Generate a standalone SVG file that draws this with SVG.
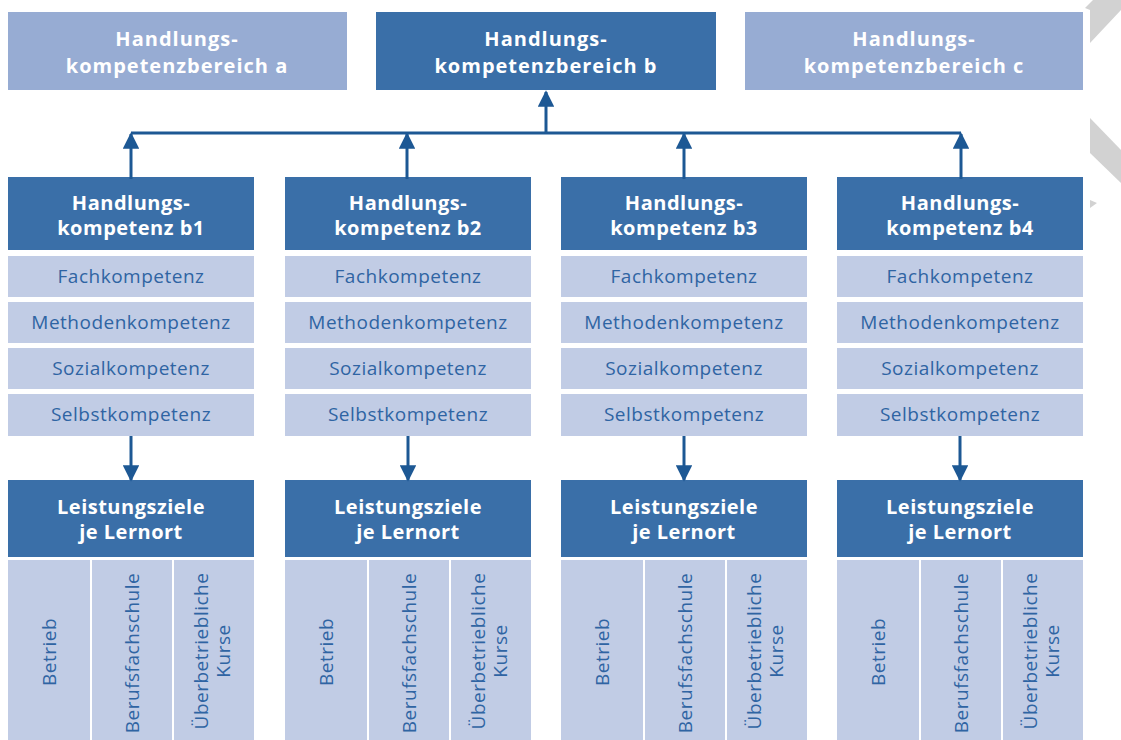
<svg xmlns="http://www.w3.org/2000/svg" width="1121" height="740" viewBox="0 0 1121 740">
<style>
.light{fill:#97acd3}
.dark{fill:#3a6fa8}
.row{fill:#c1cce5}
.ht{font-family:"Open Sans","Noto Sans",sans-serif;font-weight:bold;font-size:20px;letter-spacing:1px;fill:#fff;text-anchor:middle}
.hc{letter-spacing:0.5px}
.rt{font-family:"Open Sans","Noto Sans",sans-serif;font-size:19px;letter-spacing:0.5px;fill:#2f64a3;text-anchor:middle}
.conn{stroke:#1d5894;stroke-width:3;fill:none}
</style>
<defs>
<marker id="ah" viewBox="0 0 10 10" refX="9" refY="5" markerWidth="5.5" markerHeight="5.5" orient="auto" markerUnits="strokeWidth">
<path d="M0,0 L10,5 L0,10 z" fill="#1d5894"/>
</marker>
<g id="col">
<rect class="dark" x="0" y="177" width="246" height="73"/>
<rect class="row" x="0" y="256" width="246" height="41"/>
<rect class="row" x="0" y="302" width="246" height="41"/>
<rect class="row" x="0" y="348" width="246" height="41"/>
<rect class="row" x="0" y="394" width="246" height="42"/>
<text class="rt" x="123" y="283">Fachkompetenz</text>
<text class="rt" x="123" y="329">Methodenkompetenz</text>
<text class="rt" x="123" y="375">Sozialkompetenz</text>
<text class="rt" x="123" y="421">Selbstkompetenz</text>
<rect class="dark" x="0" y="480" width="246" height="77"/>
<text class="ht hc" x="123" y="514">Leistungsziele</text>
<text class="ht hc" x="123" y="539">je Lernort</text>
<rect class="row" x="0" y="560" width="82" height="180"/>
<rect class="row" x="84" y="560" width="80" height="180"/>
<rect class="row" x="166" y="560" width="80" height="180"/>
<text class="rt" transform="translate(48,652) rotate(-90)">Betrieb</text>
<text class="rt" transform="translate(131,653) rotate(-90)">Berufsfachschule</text>
<text class="rt" transform="translate(200,651) rotate(-90)">Überbetriebliche</text>
<text class="rt" transform="translate(222,651) rotate(-90)">Kurse</text>
</g>
</defs>
<g id="decor" fill="#d2d2d2">
<polygon points="1085,8 1093,0 1121,0 1121,10 1090,43 1090,10"/>
<polygon points="1090,118 1121,150 1121,183 1090,153"/>
<polygon points="1090,200 1097,203 1090,208"/>
</g>
<g id="bereich-a">
<rect class="light" x="8" y="12" width="339" height="78"/>
<text class="ht" x="177" y="46">Handlungs-</text>
<text class="ht" x="177" y="73">kompetenzbereich a</text>
</g>
<g id="bereich-b">
<rect class="dark" x="376" y="12" width="340" height="78"/>
<text class="ht" x="546" y="46">Handlungs-</text>
<text class="ht" x="546" y="73">kompetenzbereich b</text>
</g>
<g id="bereich-c">
<rect class="light" x="745" y="12" width="338" height="78"/>
<text class="ht" x="914" y="46">Handlungs-</text>
<text class="ht" x="914" y="73">kompetenzbereich c</text>
</g>
<g id="b1">
<use href="#col" x="8"/>
<text class="ht hc" x="131" y="210">Handlungs-</text>
<text class="ht hc" x="131" y="235">kompetenz b1</text>
</g>
<g id="b2">
<use href="#col" x="285"/>
<text class="ht hc" x="408" y="210">Handlungs-</text>
<text class="ht hc" x="408" y="235">kompetenz b2</text>
</g>
<g id="b3">
<use href="#col" x="561"/>
<text class="ht hc" x="684" y="210">Handlungs-</text>
<text class="ht hc" x="684" y="235">kompetenz b3</text>
</g>
<g id="b4">
<use href="#col" x="837"/>
<text class="ht hc" x="960" y="210">Handlungs-</text>
<text class="ht hc" x="960" y="235">kompetenz b4</text>
</g>
<g id="connectors">
<path class="conn" d="M131,133 H961"/>
<path class="conn" d="M546,134 V92" marker-end="url(#ah)"/>
<path class="conn" d="M131,134 V179" marker-end="url(#ah)" transform="rotate(180 131 156.5)"/>
<path class="conn" d="M407,134 V179" marker-end="url(#ah)" transform="rotate(180 407 156.5)"/>
<path class="conn" d="M684,134 V179" marker-end="url(#ah)" transform="rotate(180 684 156.5)"/>
<path class="conn" d="M961,134 V179" marker-end="url(#ah)" transform="rotate(180 961 156.5)"/>
<path class="conn" d="M131,436 V480" marker-end="url(#ah)"/>
<path class="conn" d="M408,436 V480" marker-end="url(#ah)"/>
<path class="conn" d="M684,436 V480" marker-end="url(#ah)"/>
<path class="conn" d="M960,436 V480" marker-end="url(#ah)"/>
</g>
</svg>
